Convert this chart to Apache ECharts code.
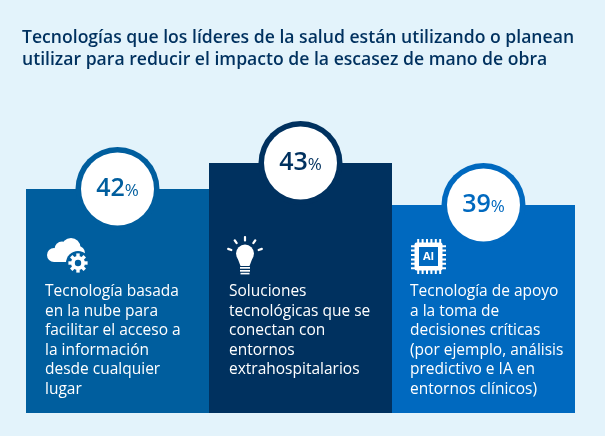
<!DOCTYPE html>
<html><head><meta charset="utf-8">
<style>html,body{margin:0;padding:0;background:#e3f3fb}#c{width:605px;height:436px}</style>
<script src="https://cdn.jsdelivr.net/npm/echarts@6/dist/echarts.min.js"></script>
</head><body><div id="c"></div>
<script>
const titleText = "Tecnologías que los líderes de la salud están utilizando o planean\nutilizar para reducir el impacto de la escasez de mano de obra";
const categories = [
  "Tecnología basada\nen la nube para\nfacilitar el acceso a\nla información\ndesde cualquier\nlugar",
  "Soluciones\ntecnológicas que se\nconectan con\nentornos\nextrahospitalarios",
  "Tecnología de apoyo\na la toma de\ndecisiones críticas\n(por ejemplo, análisis\npredictivo e IA en\nentornos clínicos)"
];
const percentages = [42, 43, 39];
// The reference's columns are not drawn to scale with the percentages: these are their read heights.
const columnHeights = [224, 250, 208];
const columnColors = ["#005e9e", "#00315f", "#0069bf"];
const FONT = '"Open Sans"';
const BG = "#e3f3fb";

const top_ = el => Object.assign(el, { z: 10 });
function cloudIcon(x, y, fg, bg) {
  const rad = a => a * Math.PI / 180;
  return { type: 'group', x, y, children: [
    { type:'circle', shape:{cx:7,cy:17,r:7}, style:{fill:fg} },
    { type:'circle', shape:{cx:15,cy:11,r:7.5}, style:{fill:fg} },
    { type:'circle', shape:{cx:24,cy:9.5,r:9.5}, style:{fill:fg} },
    { type:'circle', shape:{cx:31,cy:15,r:7}, style:{fill:fg} },
    { type:'rect', shape:{x:7,y:12,width:24,height:12}, style:{fill:fg} },
    { type:'circle', shape:{cx:31,cy:25,r:12}, style:{fill:bg} },
    ...[0,45,90,135].map(a => ({ type:'rect', shape:{x:-1.7,y:-9.6,width:3.4,height:19.2}, x:31, y:25, rotation:rad(a), style:{fill:fg} })),
    { type:'circle', shape:{cx:31,cy:25,r:7}, style:{fill:fg} },
    { type:'circle', shape:{cx:31,cy:25,r:3.2}, style:{fill:bg} }
  ].map(top_)};
}
function bulbIcon(x, y, fg) {
  const rays = [-70,-35,0,35,70].map(a => ({ type:'rect', shape:{x:-1.1,y:-19,width:2.2,height:5.5,r:1}, x:17, y:19, rotation:-a*Math.PI/180, style:{fill:fg} }));
  return { type:'group', x, y, children: [
    ...rays,
    { type:'circle', shape:{cx:17,cy:17.5,r:9}, style:{fill:fg} },
    { type:'polygon', shape:{points:[[9.5,22],[24.5,22],[21.5,30],[12.5,30]]}, style:{fill:fg} },
    { type:'rect', shape:{x:12,y:31,width:10,height:1.7}, style:{fill:fg} },
    { type:'rect', shape:{x:12,y:34,width:10,height:1.7}, style:{fill:fg} },
    { type:'rect', shape:{x:12.5,y:36.8,width:9,height:1.6}, style:{fill:fg} }
  ].map(top_)};
}
function chipIcon(x, y, fg, bg) {
  const pins = [];
  for (let i = 0; i < 6; i++) {
    const p = 6.2 + i * 4.4;
    pins.push({ type:'rect', shape:{x:p,y:0,width:2,height:35}, style:{fill:fg} });
    pins.push({ type:'rect', shape:{x:0,y:p,width:35,height:2}, style:{fill:fg} });
  }
  return { type:'group', x, y, children: [
    ...pins,
    { type:'rect', shape:{x:3.5,y:3.5,width:28,height:28,r:2}, style:{fill:fg} },
    { type:'rect', shape:{x:8,y:8,width:19,height:19}, style:{fill:bg} },
    { type:'text', x:17.5, y:17.5, style:{text:'AI',fill:fg,font:'700 11px '+FONT,align:'center',verticalAlign:'middle'} }
  ].map(top_)};
}

const textX = [45, 229, 410];
const chart = echarts.init(document.getElementById('c'), null, {renderer:'canvas'});
chart.setOption({
  backgroundColor: BG,
  animation: false,
  title: { text: titleText, left: 17, top: 22, textStyle: { fontFamily: FONT, fontWeight: 600, fontSize: 17.6, lineHeight: 22, color: '#00315f' } },
  grid: { left: 26, right: 30, top: 0, bottom: 23 },
  xAxis: { type: 'category', data: categories, show: false },
  yAxis: { type: 'value', min: 0, max: 413, show: false },
  series: [
    { type: 'bar', barWidth: '100%', silent: true, z: 1,
      data: columnHeights.map((v, i) => ({ value: v, itemStyle: { color: columnColors[i] } })) },
    { type: 'scatter', symbolSize: 84, silent: true, z: 2,
      data: columnHeights.map((v, i) => ({ value: [i, v], itemStyle: { color: columnColors[i], opacity: 1 } })) },
    { type: 'scatter', symbolSize: 73, silent: true, z: 3,
      data: columnHeights.map((v, i) => ({ value: [i, v], itemStyle: { color: '#ffffff', opacity: 1 },
        label: { show: true, position: 'inside',
          formatter: '{a|' + percentages[i] + '}{b|%}',
          rich: { a: { fontFamily: FONT, fontWeight: 600, fontSize: 25, color: columnColors[i] },
                  b: { fontFamily: FONT, fontWeight: 400, fontSize: 17, color: columnColors[i], padding: [5, 0, 0, 0] } } } })) }
  ],
  graphic: [
    ...categories.map((t, i) => ({ type: 'text', x: textX[i], y: 282, z: 10,
      style: { text: t, fill: '#ffffff', font: '400 15.5px ' + FONT, lineHeight: 19.5 } })),
    cloudIcon(47, 238, '#ffffff', columnColors[0]),
    bulbIcon(228, 236, '#ffffff'),
    chipIcon(411, 239, '#ffffff', columnColors[2])
  ]
});
</script></body></html>
